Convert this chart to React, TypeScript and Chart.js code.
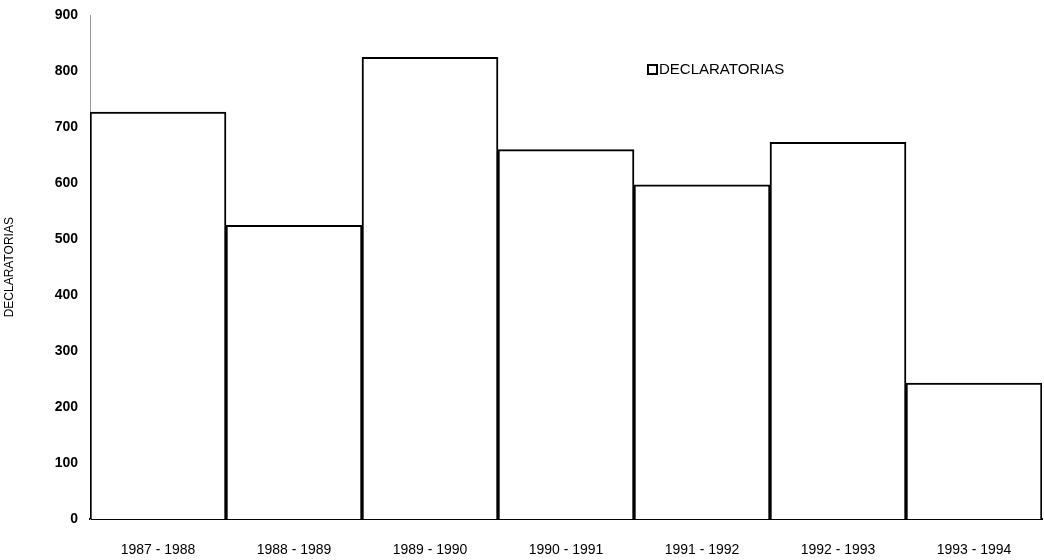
import React, { useEffect, useRef } from "react";
import { Chart, registerables } from "chart.js";

Chart.register(...registerables);

const categories = ["1987 - 1988", "1988 - 1989", "1989 - 1990", "1990 - 1991", "1991 - 1992", "1992 - 1993", "1993 - 1994"];
const declaratorias = [727, 525, 825, 660, 597, 673, 243];
const seriesLabel = "DECLARATORIAS";
const yTicks = [0, 100, 200, 300, 400, 500, 600, 700, 800, 900];

const FONT = "'Liberation Sans', Arial, sans-serif";

const legendPlugin = {
  id: "customLegend",
  afterDraw(chart: any) {
    const ctx = chart.ctx;
    ctx.save();
    const x = 648;
    const y = 65;
    ctx.fillStyle = "#fff";
    ctx.strokeStyle = "#000";
    ctx.lineWidth = 2;
    ctx.strokeRect(x, y, 9, 9);
    ctx.fillStyle = "#000";
    ctx.font = `15px ${FONT}`;
    ctx.textBaseline = "middle";
    ctx.textAlign = "left";
    ctx.fillText(seriesLabel, x + 11, y + 5);
    ctx.restore();
  },
};

export default function App() {
  const ref = useRef<HTMLCanvasElement | null>(null);
  useEffect(() => {
    document.body.style.margin = "0";
    const canvas = ref.current!;
    const chart = new Chart(canvas, {
      type: "bar",
      data: {
        labels: categories,
        datasets: [
          {
            label: seriesLabel,
            data: declaratorias,
            backgroundColor: "#ffffff",
            borderColor: "#000000",
            borderWidth: 2,
            barPercentage: 1,
            categoryPercentage: 1,
          },
        ],
      },
      options: {
        animation: false,
        responsive: false,
        layout: { padding: { top: 15, right: 2, left: 0, bottom: 0 } },
        plugins: { legend: { display: false }, tooltip: { enabled: false } },
        scales: {
          x: {
            grid: { display: false, drawTicks: false },
            border: { display: true, color: "#000", width: 2 },
            ticks: { color: "#000", font: { family: FONT, size: 14 }, padding: 23, maxRotation: 0 },
            afterFit(scale: any) {
              scale.height = 41;
            },
          },
          y: {
            min: 0,
            max: 900,
            afterBuildTicks(scale: any) {
              scale.ticks = yTicks.map((v) => ({ value: v }));
            },
            grid: { display: false, drawTicks: true, tickLength: 5, color: "#555" },
            border: { display: true, color: "#999", width: 1, dash: [2, 2] },
            ticks: { color: "#000", font: { family: FONT, size: 14, weight: "bold" }, padding: 7 },
            title: {
              display: true,
              text: seriesLabel,
              color: "#000",
              font: { family: FONT, size: 12 },
              padding: { top: 2, bottom: 0 },
            },
            afterFit(scale: any) {
              scale.width = 90;
            },
          },
        },
      },
      plugins: [legendPlugin],
    });
    return () => chart.destroy();
  }, []);
  return <canvas ref={ref} width={1044} height={560} style={{ display: "block" }} />;
}
